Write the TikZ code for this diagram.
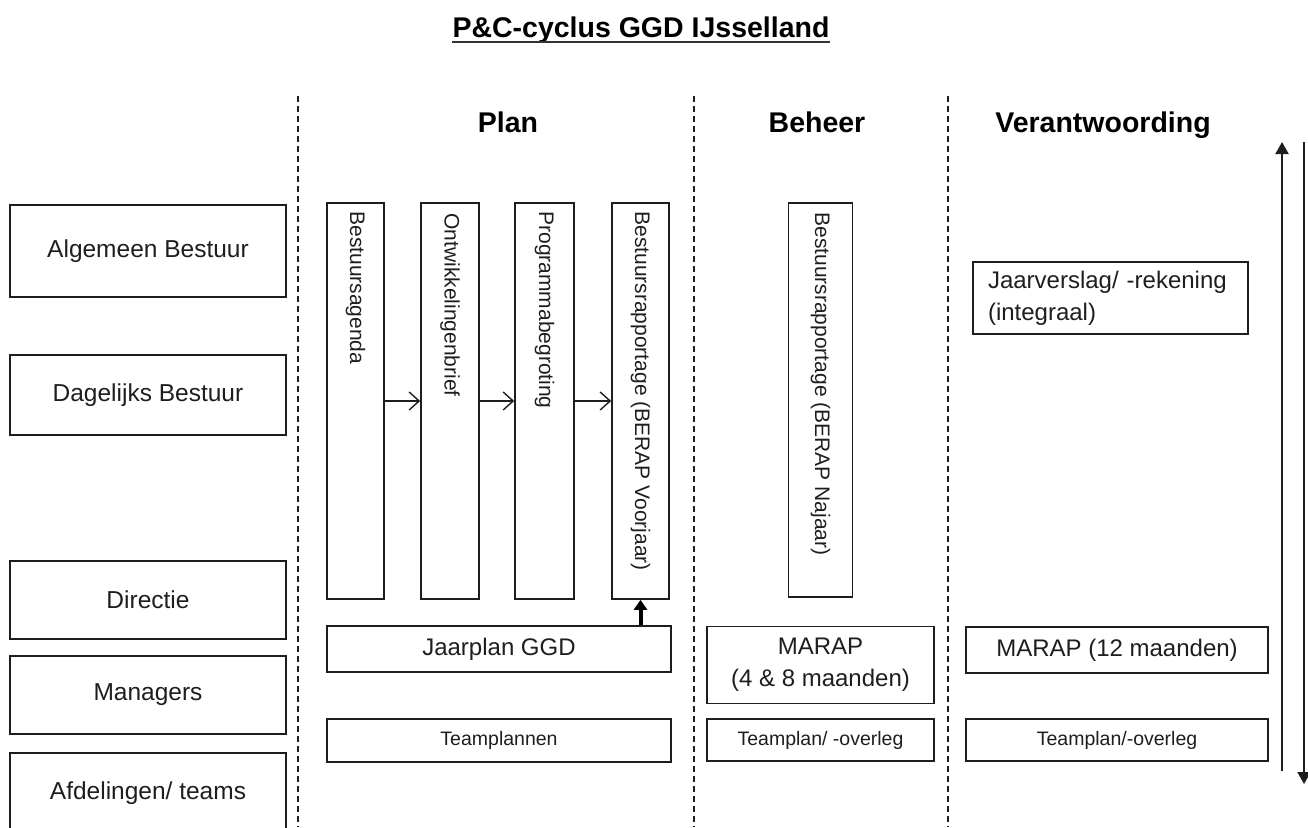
\documentclass[tikz,border=0pt]{standalone}
\usepackage{fontspec}
\setmainfont{Liberation Sans}
\usetikzlibrary{arrows.meta}
\definecolor{ink}{HTML}{1E1E1E}
\begin{document}
\begin{tikzpicture}[x=1pt,y=-1pt,
  box/.style={draw=ink, line width=1.6pt, rectangle, inner sep=0pt, align=center, text=ink},
  lab/.style={font=\fontsize{24.5}{30}\selectfont},
  med/.style={font=\fontsize{24}{32}\selectfont},
  small/.style={font=\fontsize{19.5}{24}\selectfont},
  vtext/.style={rotate=-90, anchor=west, inner sep=0pt, text=ink, font=\fontsize{21}{25}\selectfont},
  hdr/.style={font=\fontsize{28.5}{34}\bfseries\selectfont, text=black, inner sep=0pt, anchor=base},
  divider/.style={draw=ink, line width=1.6pt, dash pattern=on 6pt off 4pt},
  flow/.style={draw=ink, line width=1.4pt, -{Straight Barb[length=10pt,width=18pt,line width=1.4pt]}},
  bigarrow/.style={draw=black, line width=4pt, -{Triangle[length=10pt,width=13pt]}},
  sidearrow/.style={draw=ink, line width=2pt, -{Triangle[length=12pt,width=13pt]}}]
\useasboundingbox (0,0) rectangle (1308,827);
\clip (0,0) rectangle (1308,827);

% title
\node[hdr] (title) at (641,37) {P\&C-cyclus GGD IJsselland};
\draw[line width=2pt, draw=black!80] ([yshift=-4.5pt]title.base west) -- ([yshift=-4.5pt]title.base east);

% headers
\node[hdr] (hPlan) at (508,132) {Plan};
\node[hdr] (hBeheer) at (817,132) {Beheer};
\node[hdr] (hVer) at (1103,132) {Verantwoording};

% dividers
\coordinate (d1t) at (298,96); \coordinate (d1b) at (298,827);
\coordinate (d2t) at (694,96); \coordinate (d2b) at (694,827);
\coordinate (d3t) at (948,96); \coordinate (d3b) at (948,827);
\draw[divider] (d1t) -- (d1b);
\draw[divider] (d2t) -- (d2b);
\draw[divider] (d3t) -- (d3b);

% left column
\node[box,lab,minimum width=276pt,minimum height=92pt] (AB) at (148,251) {Algemeen Bestuur};
\node[box,lab,minimum width=276pt,minimum height=80pt] (DB) at (148,395) {Dagelijks Bestuur};
\node[box,lab,minimum width=276pt,minimum height=78pt] (DIR) at (148,600) {Directie};
\node[box,lab,minimum width=276pt,minimum height=78pt] (MAN) at (148,695) {Managers};
\node[box,lab,minimum width=276pt,minimum height=80pt] (AFD) at (148,793) {Afdelingen/ teams};

% vertical boxes
\node[box,minimum width=57pt,minimum height=396pt] (V1) at (355.5,401) {};
\node[box,minimum width=58pt,minimum height=396pt] (V2) at (450,401) {};
\node[box,minimum width=59pt,minimum height=396pt] (V3) at (544.5,401) {};
\node[box,minimum width=57pt,minimum height=396pt] (V4) at (640.5,401) {};
\node[box,minimum width=64pt,minimum height=394pt] (V5) at (820.5,400) {};
\node[vtext] (V1t) at ([yshift=-9pt]V1.north) {Bestuursagenda};
\node[vtext] (V2t) at ([yshift=-11pt]V2.north) {Ontwikkelingenbrief};
\node[vtext] (V3t) at ([yshift=-9pt]V3.north) {Programmabegroting};
\node[vtext] (V4t) at ([yshift=-9pt]V4.north) {Bestuursrapportage (BERAP Voorjaar)};
\node[vtext] (V5t) at ([yshift=-10pt]V5.north) {Bestuursrapportage (BERAP Najaar)};
\draw[flow] (V1) -- (V2);
\draw[flow] (V2) -- (V3);
\draw[flow] (V3) -- (V4);

% plan bottom
\node[box,med,minimum width=344pt,minimum height=46pt] (JP) at (499,649) {Jaarplan GGD};
\node[box,small,minimum width=344pt,minimum height=43pt] (TP) at (499,740.5) {Teamplannen};
\draw[bigarrow] (JP.north -| V4.south) -- (V4.south);

% beheer bottom
\node[box,med,minimum width=227pt,minimum height=77pt] (M48) at (820.5,665) {MARAP\\(4 \& 8 maanden)};
\node[box,small,minimum width=227pt,minimum height=42pt] (TPO1) at (820.5,740) {Teamplan/ -overleg};

% verantwoording
\node[box,med,text width=245pt,inner xsep=15pt,align=left,minimum height=72pt] (JV) at (1110.5,298) {Jaarverslag/ -rekening\\(integraal)};
\node[box,med,minimum width=302pt,minimum height=46pt] (M12) at (1117,650) {MARAP (12 maanden)};
\node[box,small,minimum width=302pt,minimum height=42pt] (TPO2) at (1117,740) {Teamplan/-overleg};

% side arrows
\coordinate (upB) at (1282,771); \coordinate (upT) at (1282,142);
\coordinate (dnT) at (1304,142); \coordinate (dnB) at (1304,784);
\draw[sidearrow] (upB) -- (upT);
\draw[sidearrow] (dnT) -- (dnB);
\end{tikzpicture}
\end{document}
